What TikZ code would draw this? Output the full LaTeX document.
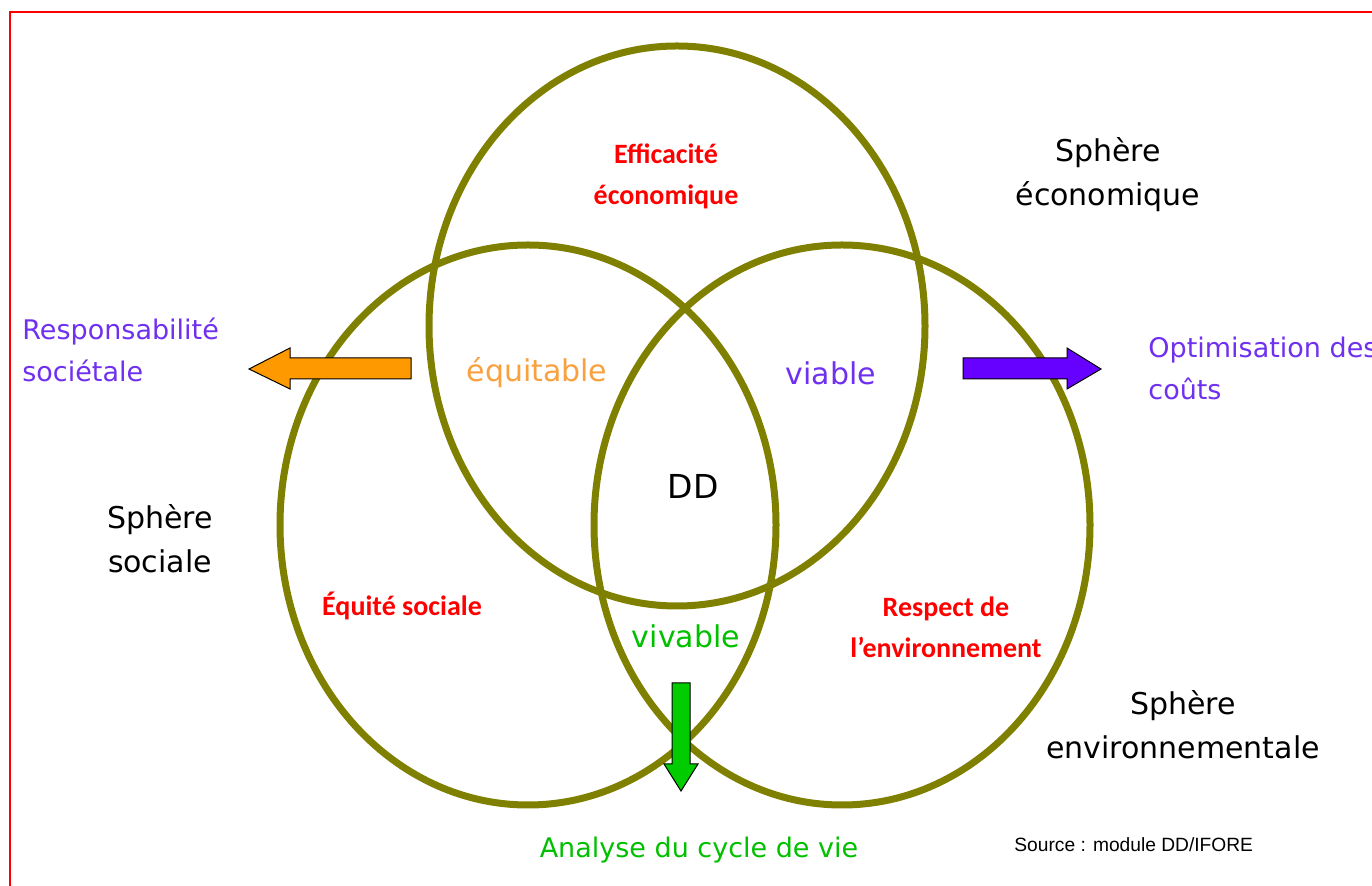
\documentclass[tikz,border=0pt]{standalone}
\usepackage{fontspec}
\setmainfont{DejaVu Sans}
\newfontfamily\boldcal{Carlito}[BoldFont={* Bold}]
\newfontfamily\arialish{Liberation Sans}
\usetikzlibrary{shapes.geometric}
\definecolor{olivering}{HTML}{808000}
\definecolor{redtext}{HTML}{FF0000}
\definecolor{violettext}{HTML}{7030F0}
\definecolor{violetfill}{HTML}{6600FF}
\definecolor{orangetext}{HTML}{F9A03F}
\definecolor{orangefill}{HTML}{FF9900}
\definecolor{greentext}{HTML}{00C000}
\definecolor{greenfill}{HTML}{00CC00}
\begin{document}
\begin{tikzpicture}[x=0.5pt,y=-0.5pt,
  sphere/.style={ellipse, draw=olivering, line width=3.5pt, inner sep=0pt,
    minimum width=248pt, minimum height=280pt},
  blacklabel/.style={align=center, font=\fontsize{15}{22}\selectfont},
  keyword/.style={align=center, font=\boldcal\bfseries\fontsize{14}{20.5}\selectfont, text=redtext},
  quality/.style={font=\fontsize{15}{20}\selectfont},
  outcome/.style={align=left, font=\fontsize{13.5}{21}\selectfont},
  blockarrow/.style={draw=black, line width=0.5pt, line join=miter}]
\useasboundingbox (0,0) rectangle (1372,886);
\fill[white] (0,0) rectangle (1372,886);
% frame
\draw[redtext, line width=1pt] (10,886) -- (10,12.5) -- (1372,12.5);

% the three spheres
\node[sphere] (eco) at (677,326) {};
\node[sphere] (soc) at (528,525) {};
\node[sphere] (env) at (842,525) {};

% block arrows
\filldraw[blockarrow, fill=orangefill]
  (411,358) -- (290,358) -- (290,348) -- (249,369) -- (290,389) -- (290,379) -- (411,379) -- cycle;
\filldraw[blockarrow, fill=violetfill]
  (963,358) -- (1067,358) -- (1067,348) -- (1101,369) -- (1067,389) -- (1067,379) -- (963,379) -- cycle;
\filldraw[blockarrow, fill=greenfill]
  (672,683) -- (690,683) -- (690,764) -- (698,764) -- (681,791) -- (664,764) -- (672,764) -- cycle;

% labels inside the spheres
\node[keyword] (effic) at (666,176) {Efficacité\\économique};
\node[keyword] (equite) at (402,606) {Équité sociale};
\node[keyword] (respect) at (946,627) {Respect de\\l’environnement};
\node[quality, text=orangetext] (equit) at (537,373) {équitable};
\node[quality, text=violettext] (viab) at (831,373) {viable};
\node[quality, text=greentext] (vivab) at (686,636) {vivable};
\node[font=\fontsize{16.5}{20}\selectfont] (dd) at (693,486) {DD};

% sphere names
\node[blacklabel] (secon) at (1108,175) {Sphère\\économique};
\node[blacklabel] (ssoc) at (160,539) {Sphère\\sociale};
\node[blacklabel] (senv) at (1183,725) {Sphère\\environnementale};

% outcomes of the arrows
\node[outcome, text=violettext, anchor=west, inner sep=0pt] (resp) at (22,350) {Responsabilité\\sociétale};
\node[outcome, text=violettext, anchor=west, inner sep=0pt] (optim) at (1148,368) {Optimisation des\\coûts};
\node[outcome, text=greentext] (acv) at (699,850) {Analyse du cycle de vie};

% source
\node[font=\arialish\fontsize{9.6}{12}\selectfont, anchor=west, inner sep=0pt] (src) at (1014,845) {Source : module DD/IFORE};
\end{tikzpicture}
\end{document}
